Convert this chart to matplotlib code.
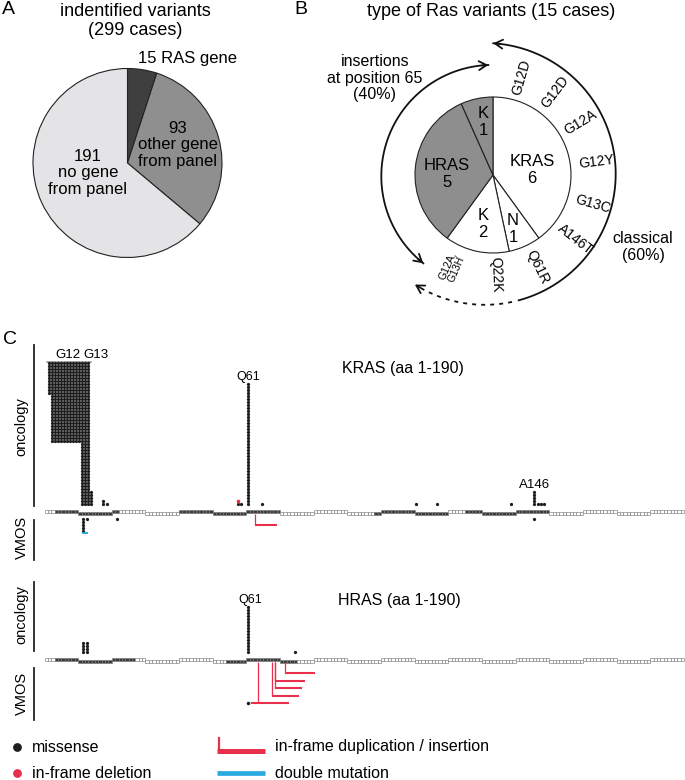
import numpy as np
import matplotlib
matplotlib.use('Agg')
import matplotlib.pyplot as plt

plt.rcParams['font.family'] = ['Liberation Sans', 'DejaVu Sans']

# ---------------- data ----------------
# Panel A
a_values = [15, 93, 191]
a_labels = ['15 RAS gene', '93\nother gene\nfrom panel', '191\nno gene\nfrom panel']
a_colors = ['#3f3f3f', '#8f8f8f', '#e4e4e6']
a_title = 'indentified variants\n(299 cases)'

# Panel B
b_values = [6, 1, 2, 5, 1]
b_labels = ['KRAS\n6', 'N\n1', 'K\n2', 'HRAS\n5', 'K\n1']
b_colors = ['white', 'white', 'white', '#8e8e8e', '#8e8e8e']
b_variants = ['G12D', 'G12D', 'G12A', 'G12Y', 'G13C', 'A146T', 'Q61R', 'Q22K', 'G12A,\nG13H']
b_title = 'type of Ras variants (15 cases)'
b_insert_text = 'insertions\nat position 65\n(40%)'
b_classic_text = 'classical\n(60%)'

# Panel C  (protein track, aa 1-190, shaded in blocks of 10)
n_aa = 190
seg_size = 10
kras_dark_ranges = [(4, 22), (41, 70), (99, 120), (126, 150)]
hras_dark_ranges = [(4, 27), (55, 75)]

# KRAS oncology
kras_g12_n = 281
kras_g13_n = 149
kras_onc_pos = [18, 19, 58, 59, 61, 65, 111, 117, 139, 146, 147, 148, 149]
kras_onc_n = [2, 1, 1, 1, 41, 1, 1, 1, 1, 5, 1, 1, 1]
kras_del_pos = [58]
# KRAS VMOS
kras_vmos_pos = [12, 13, 22, 146]
kras_vmos_n = [5, 1, 1, 1]
kras_double = (11.5, 13.5)
kras_ins_anchor = [63]
kras_ins_start = [63]
kras_ins_end = [69.5]
kras_ins_level = [1]

# HRAS oncology
hras_onc_pos = [12, 13, 61, 75]
hras_onc_n = [4, 4, 16, 1]
# HRAS VMOS
hras_ins_anchor = [72, 69, 69, 68, 64]
hras_ins_start = [72, 69, 69, 68, 62]
hras_ins_end = [81, 78, 77, 76, 73]
hras_ins_level = [1, 2, 3, 4, 5]
hras_vmos_pos = [61]
hras_vmos_level = [5]

legend_items = ['missense', 'in-frame deletion', 'in-frame duplication / insertion', 'double mutation']

# ---------------- style ----------------
W, H = 685, 780
PX_PER_AA = (684.0 - 44.5) / 190
X0 = 0.5 - 44.5 / PX_PER_AA
X1 = 0.5 + (685 - 44.5) / PX_PER_AA
DOT_PITCH = 3.0
COL_PITCH = DOT_PITCH / PX_PER_AA
ROW0 = 8.5
VROW0 = -6.5
DOT_S = 5.5
DOT_C = '#1e1e1e'
RED = '#e8304c'
BLUE = '#2aa9e0'
# outer label placement (angle in deg, radius in px) for panel B
b_var_angle = [74, 53, 31, 7, -16, -38, -64, -88, -114]
b_var_rad = [102, 103.5, 102, 104.5, 104, 104.5, 102.5, 100, 101]


def Y(py):
    return H - py


fig = plt.figure(figsize=(W / 100, H / 100), dpi=100)
ax0 = fig.add_axes([0, 0, 1, 1])

# ---------- Panel A ----------
ax0.pie(a_values, center=(127.5, Y(163)), radius=94.5, startangle=90,
        counterclock=False, colors=a_colors,
        wedgeprops=dict(edgecolor='#222222', linewidth=0.8))
ax0.text(138, Y(58), a_labels[0], fontsize=12, ha='left', va='center')
ax0.text(178, Y(145), a_labels[1], fontsize=12, ha='center', va='center', linespacing=1.1)
ax0.text(88, Y(173), a_labels[2], fontsize=12, ha='center', va='center', linespacing=1.1)
ax0.text(135, Y(21), a_title, fontsize=13, ha='center', va='center', linespacing=1.1)
ax0.text(2, Y(10), 'A', fontsize=14, ha='left', va='center')

# ---------- Panel B ----------
bc = (493, Y(175))
br = 78
ax0.pie(b_values, center=bc, radius=br, startangle=90, counterclock=False,
        colors=b_colors, wedgeprops=dict(edgecolor='#222222', linewidth=0.8))
b_text_pos = [(532, 170), (513, 229), (483, 224), (447, 174), (483, 122)]
for lab, (x, y) in zip(b_labels, b_text_pos):
    ax0.text(x, Y(y), lab, fontsize=12, ha='center', va='center', linespacing=1.1)

for lab, ang, r in zip(b_variants, b_var_angle, b_var_rad):
    x = bc[0] + r * np.cos(np.radians(ang))
    y = bc[1] + r * np.sin(np.radians(ang))
    rot = ang if ang > -90 else ang + 180
    fs = 7.5 if '\n' in lab else 10
    ax0.text(x, y, lab, fontsize=fs, ha='center', va='center', rotation=rot,
             rotation_mode='anchor', linespacing=1.0)

ax0.text(491, Y(11), b_title, fontsize=13, ha='center', va='center')
ax0.text(294, Y(10), 'B', fontsize=14, ha='left', va='center')
ax0.text(375, Y(78), b_insert_text, fontsize=11.5, ha='center', va='center', linespacing=1.15)
ax0.text(643, Y(247), b_classic_text, fontsize=11.5, ha='center', va='center', linespacing=1.15)


def arc_pts(cx, cy, r, a0, a1):
    t = np.radians(np.linspace(a0, a1, 200))
    return cx + r * np.cos(t), cy + r * np.sin(t)


def arrow_head(cx, cy, r, a_tip, a_from):
    tip = (cx + r * np.cos(np.radians(a_tip)), cy + r * np.sin(np.radians(a_tip)))
    frm = (cx + r * np.cos(np.radians(a_from)), cy + r * np.sin(np.radians(a_from)))
    ax0.annotate('', xy=tip, xytext=frm,
                 arrowprops=dict(arrowstyle='->,head_length=0.55,head_width=0.32',
                                 lw=1.3, color='#111111', shrinkA=0, shrinkB=0))


# left arc (insertions)
lc = (492.6, Y(176.2)); lr = 111.3
xs, ys = arc_pts(lc[0], lc[1], lr, 92.2, 231.5)
ax0.plot(xs, ys, color='#111111', lw=1.3)
arrow_head(lc[0], lc[1], lr, 92.2, 95.5)
arrow_head(lc[0], lc[1], lr, 231.5, 228.0)
# right arc (classical)
rc = (484.8, Y(173.9)); rr = 130.9
xs, ys = arc_pts(rc[0], rc[1], rr, -75, 86.3)
ax0.plot(xs, ys, color='#111111', lw=1.3)
arrow_head(rc[0], rc[1], rr, 86.3, 83.0)
xs, ys = arc_pts(rc[0], rc[1], rr, -78, -120)
ax0.plot(xs, ys, color='#111111', lw=1.3, linestyle=(0, (2.2, 2.8)))
arrow_head(rc[0], rc[1], rr, -122.3, -119.5)

ax0.text(3, Y(339), 'C', fontsize=14, ha='left', va='center')

# ---------- Legend ----------
ax0.scatter([17], [Y(747)], s=40, color=DOT_C, linewidths=0)
ax0.scatter([17], [Y(773)], s=40, color=RED, linewidths=0)
ax0.text(32, Y(747), legend_items[0], fontsize=11.5, ha='left', va='center')
ax0.text(32, Y(773), legend_items[1], fontsize=11.5, ha='left', va='center')
ax0.plot([219, 219], [Y(737), Y(751)], color=RED, lw=1.6, solid_capstyle='butt')
ax0.plot([217, 265], [Y(750.5), Y(750.5)], color=RED, lw=3.6, solid_capstyle='butt')
ax0.plot([217, 265], [Y(773), Y(773)], color=BLUE, lw=3.4, solid_capstyle='butt')
ax0.text(275, Y(747), legend_items[2], fontsize=11.5, ha='left', va='center')
ax0.text(275, Y(773), legend_items[3], fontsize=11.5, ha='left', va='center')

ax0.set_xlim(0, W)
ax0.set_ylim(0, H)
ax0.set_aspect('auto')
ax0.axis('off')


# ---------- Panel C ----------
def draw_track(ax, dark_ranges):
    aa = np.arange(1, n_aa + 1)
    dark = np.zeros(n_aa, bool)
    for s, e in dark_ranges:
        dark[s - 1:e] = True
    seg = (aa - 1) // seg_size
    off = np.where(seg % 2 == 0, 1.0, -1.0)
    colors = np.where(dark, '#3b3b3b', '#ffffff')
    ax.bar(aa, 3.6, width=1.0, bottom=off - 1.8, color=colors,
           edgecolor='#7d7d7d', linewidth=0.45, zorder=2)


def stack(ax, pos, counts, base, step, color=DOT_C, s=DOT_S):
    xs, ys = [], []
    for p, n in zip(pos, counts):
        for i in range(n):
            xs.append(p)
            ys.append(base + step * i)
    ax.scatter(xs, ys, s=s, c=color, linewidths=0, zorder=3)
    return xs, ys


def ins_depth(level):
    return -(5.4 + 7.4 * level)


def draw_ins(ax, anchors, starts, ends, levels):
    for a, s, e, L in zip(anchors, starts, ends, levels):
        d = ins_depth(L)
        ax.plot([a, a], [-1.0, d], color=RED, lw=0.9, solid_capstyle='butt', zorder=3)
        ax.plot([s, e], [d, d], color=RED, lw=1.5, solid_capstyle='butt', zorder=3)


def side_labels(ax, onc_span, onc_mid, vm_span, vm_mid):
    xl = 0.5 + (33.5 - 44.5) / PX_PER_AA
    xt = 0.5 + (21.5 - 44.5) / PX_PER_AA
    ax.plot([xl, xl], onc_span, color='#222222', lw=1.3)
    ax.plot([xl, xl], vm_span, color='#222222', lw=1.3)
    ax.text(xt, onc_mid, 'oncology', rotation=90, fontsize=10.5, ha='center', va='center')
    ax.text(xt, vm_mid, 'VMOS', rotation=90, fontsize=10.5, ha='center', va='center')


# KRAS
axk = fig.add_axes([0, (H - 575) / H, 1, 240 / H])
axk.set_xlim(X0, X1)
axk.set_ylim(512.5 - 575, 512.5 - 335)
axk.axis('off')
draw_track(axk, kras_dark_ranges)

g12_rows, g13_rows = 27, 48
top = ROW0 + DOT_PITCH * (g13_rows - 1)
bx, by = [], []
for k in range(kras_g12_n):
    c, r = divmod(k, g12_rows)
    bx.append(12 - 1.3 - c * COL_PITCH)
    by.append(top - r * DOT_PITCH)
for k in range(kras_g13_n):
    c, r = divmod(k, g13_rows)
    bx.append(11.55 + c * COL_PITCH)
    by.append(ROW0 + r * DOT_PITCH)
axk.scatter(bx, by, s=DOT_S, c=DOT_C, linewidths=0, zorder=3)

stack(axk, kras_onc_pos, kras_onc_n, ROW0, DOT_PITCH)
del_base = [ROW0 + DOT_PITCH * kras_onc_n[kras_onc_pos.index(p)] for p in kras_del_pos]
axk.scatter(kras_del_pos, del_base, s=7, c=RED, linewidths=0, zorder=4)
stack(axk, kras_vmos_pos, kras_vmos_n, VROW0, -DOT_PITCH)
dbl_y = VROW0 - DOT_PITCH * (kras_vmos_n[0] - 1) - 2.3
axk.plot(kras_double, [dbl_y, dbl_y], color=BLUE, lw=1.4, solid_capstyle='butt', zorder=3)
draw_ins(axk, kras_ins_anchor, kras_ins_start, kras_ins_end, kras_ins_level)

axk.plot([1.2, 14.2], [151, 151], color='#9a9a9a', lw=1.2)
axk.text(7.5, 157.5, 'G12', fontsize=9.5, ha='center', va='center')
axk.text(15.8, 157.5, 'G13', fontsize=9.5, ha='center', va='center')
axk.text(61, 135.5, 'Q61', fontsize=9, ha='center', va='center')
axk.text(146, 27.5, 'A146', fontsize=9.5, ha='center', va='center')
axk.text(107, 144.5, 'KRAS (aa 1-190)', fontsize=11.5, ha='center', va='center')
side_labels(axk, [167.5, 6.5], 85.5, [-7.5, -47.5], -24.5)

# HRAS
axh = fig.add_axes([0, (H - 728) / H, 1, 150 / H])
axh.set_xlim(X0, X1)
axh.set_ylim(660.5 - 728, 660.5 - 578)
axh.axis('off')
draw_track(axh, hras_dark_ranges)
stack(axh, hras_onc_pos, hras_onc_n, ROW0, DOT_PITCH)
draw_ins(axh, hras_ins_anchor, hras_ins_start, hras_ins_end, hras_ins_level)
axh.scatter(hras_vmos_pos, [ins_depth(L) for L in hras_vmos_level], s=DOT_S + 1,
            c=DOT_C, linewidths=0, zorder=4)
axh.text(61.5, 60.5, 'Q61', fontsize=9, ha='center', va='center')
axh.text(106, 60.5, 'HRAS (aa 1-190)', fontsize=11.5, ha='center', va='center')
side_labels(axh, [78.5, 9.5], 45.5, [-7.5, -59.5], -32.5)

fig.savefig('out.png', dpi=100)
